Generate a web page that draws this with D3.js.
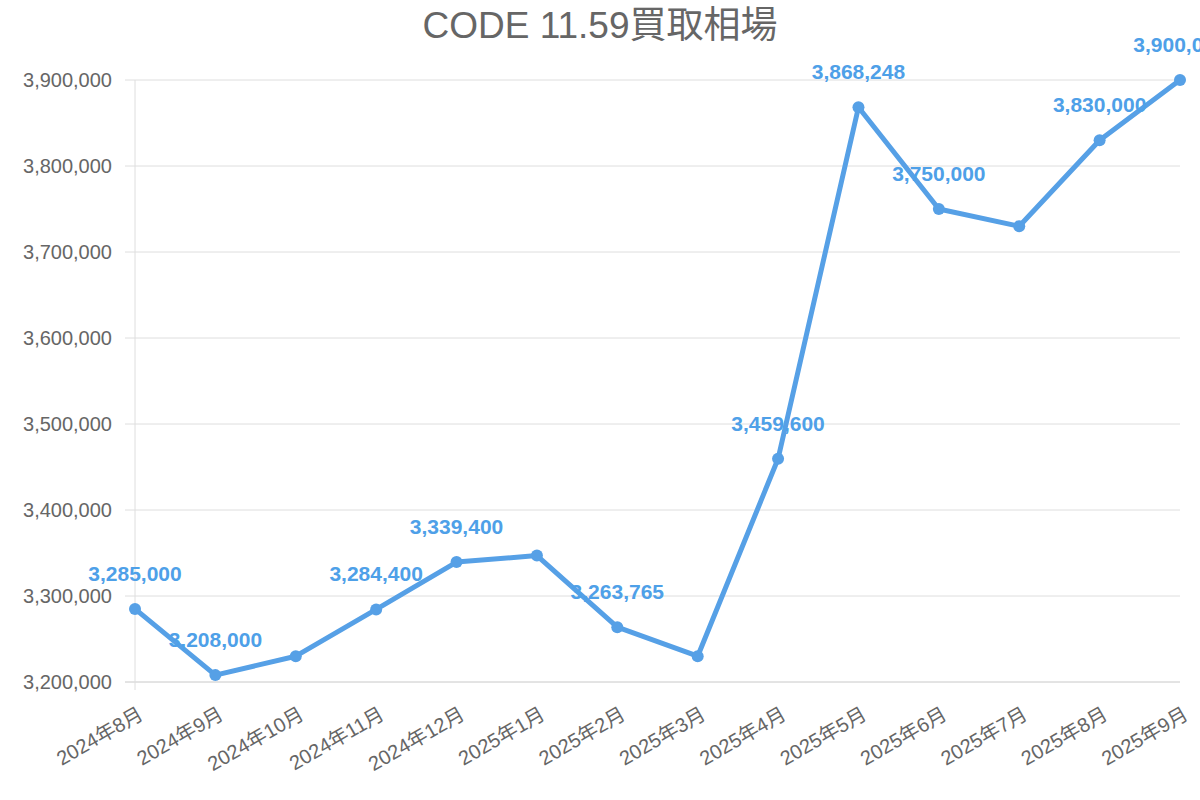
<!DOCTYPE html>
<html><head><meta charset="utf-8">
<script src="https://cdn.jsdelivr.net/npm/d3@7"></script>
<style>body{margin:0;background:#fff}</style></head>
<body><svg id="c" width="1200" height="800"></svg>
<script>
const categories=["2024年8月","2024年9月","2024年10月","2024年11月","2024年12月","2025年1月","2025年2月","2025年3月","2025年4月","2025年5月","2025年6月","2025年7月","2025年8月","2025年9月"];
const values=[3285000,3208000,3230000,3284400,3339400,3347000,3263765,3230000,3459600,3868248,3750000,3730000,3830000,3900000];
const shownLabels=[true,true,false,true,true,false,true,false,true,true,true,false,true,true];
const yTicks=[3200000,3300000,3400000,3500000,3600000,3700000,3800000,3900000];
const title="CODE 11.59買取相場";
const font="Helvetica, Arial, 'Liberation Sans', 'Noto Sans CJK JP', sans-serif";
const svg=d3.select("#c");
const x=d3.scalePoint().domain(categories).range([135,1180]);
const y=d3.scaleLinear().domain([3200000,3900000]).range([682,80]);
const fmt=d3.format(",");
svg.append("text").attr("x",600).attr("y",38).attr("text-anchor","middle").attr("font-family",font).attr("font-size",37).attr("fill","#666").text(title);
const ya=svg.append("g").attr("transform","translate(135,0)").call(d3.axisLeft(y).tickValues(yTicks).tickFormat(fmt).tickSize(0).tickPadding(23));
ya.select(".domain").remove();
ya.selectAll("text").attr("font-family",font).attr("font-size",20).attr("fill","#666");
svg.append("g").selectAll("line").data(yTicks).join("line").attr("x1",125).attr("x2",1180).attr("y1",d=>y(d)).attr("y2",d=>y(d)).attr("stroke",d=>d===3200000?"#c8c8c8":"#dedede").attr("stroke-width",1);
svg.append("line").attr("x1",135).attr("x2",135).attr("y1",80).attr("y2",690).attr("stroke","#dedede");
const xa=svg.append("g").attr("transform","translate(0,682)").call(d3.axisBottom(x).tickSize(0).tickPadding(0));
xa.select(".domain").remove();
xa.selectAll("text").attr("font-family",font).attr("font-size",20).attr("fill","#666").attr("text-anchor","end").attr("transform","translate(2,24) rotate(-30)").attr("dy","0.7em");
const data=categories.map((c,i)=>({c,v:values[i],s:shownLabels[i]}));
svg.append("path").datum(data).attr("fill","none").attr("stroke","#56a0e6").attr("stroke-width",5).attr("stroke-linejoin","round").attr("d",d3.line().x(d=>x(d.c)).y(d=>y(d.v)));
svg.append("g").selectAll("circle").data(data).join("circle").attr("cx",d=>x(d.c)).attr("cy",d=>y(d.v)).attr("r",6).attr("fill","#56a0e6");
svg.append("g").selectAll("text").data(data.filter(d=>d.s)).join("text").attr("x",d=>x(d.c)).attr("y",d=>y(d.v)-28).attr("text-anchor","middle").attr("font-family",font).attr("font-weight","bold").attr("font-size",21).attr("fill","#4ea0e8").text(d=>fmt(d.v));
</script></body></html>
